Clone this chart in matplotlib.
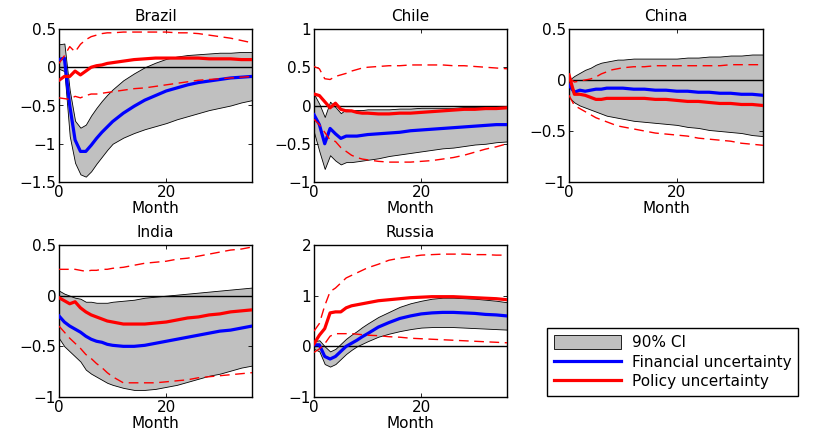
import numpy as np
import matplotlib
matplotlib.use('Agg')
import matplotlib.pyplot as plt
from matplotlib.patches import Patch
from matplotlib.lines import Line2D

plt.rcParams['font.family'] = ['DejaVu Sans']
plt.rcParams['font.size'] = 11

months = [0, 1, 2, 3, 4, 5, 6, 7, 8, 9, 10, 12, 14, 16, 18, 20, 22, 24, 26, 28, 30, 32, 34, 36]

# Brazil
br_up = [0.30, 0.31, -0.30, -0.70, -0.79, -0.75, -0.63, -0.53, -0.44, -0.36, -0.29, -0.17, -0.08, 0.00, 0.06, 0.11, 0.14, 0.16, 0.17, 0.18, 0.19, 0.19, 0.20, 0.20]
br_lo = [-0.02, -0.05, -0.90, -1.25, -1.40, -1.43, -1.36, -1.26, -1.17, -1.08, -1.00, -0.92, -0.86, -0.81, -0.77, -0.73, -0.68, -0.64, -0.60, -0.56, -0.53, -0.50, -0.46, -0.43]
br_fin = [0.10, 0.12, -0.50, -0.95, -1.10, -1.10, -1.02, -0.93, -0.85, -0.78, -0.71, -0.60, -0.51, -0.43, -0.37, -0.31, -0.27, -0.23, -0.20, -0.18, -0.16, -0.14, -0.13, -0.12]
br_pol = [-0.17, -0.12, -0.12, -0.05, -0.10, -0.05, 0.00, 0.02, 0.03, 0.05, 0.06, 0.08, 0.10, 0.11, 0.12, 0.12, 0.12, 0.12, 0.12, 0.11, 0.11, 0.11, 0.10, 0.10]
br_pol_hi = [0.05, 0.15, 0.27, 0.20, 0.30, 0.36, 0.40, 0.42, 0.44, 0.45, 0.45, 0.46, 0.46, 0.46, 0.46, 0.46, 0.45, 0.45, 0.44, 0.42, 0.40, 0.38, 0.35, 0.32]
br_pol_lo = [-0.40, -0.41, -0.42, -0.38, -0.40, -0.37, -0.35, -0.35, -0.34, -0.33, -0.32, -0.30, -0.28, -0.27, -0.25, -0.23, -0.21, -0.19, -0.17, -0.16, -0.15, -0.14, -0.13, -0.12]

# Chile
cl_up = [0.15, 0.02, -0.15, 0.05, -0.02, -0.10, -0.05, -0.06, -0.06, -0.06, -0.05, -0.05, -0.05, -0.04, -0.04, -0.03, -0.03, -0.03, -0.03, -0.02, -0.02, -0.02, -0.02, -0.02]
cl_lo = [-0.35, -0.60, -0.83, -0.65, -0.72, -0.77, -0.74, -0.74, -0.73, -0.72, -0.71, -0.69, -0.66, -0.64, -0.62, -0.60, -0.58, -0.56, -0.55, -0.53, -0.51, -0.50, -0.48, -0.47]
cl_fin = [-0.12, -0.25, -0.50, -0.30, -0.37, -0.43, -0.40, -0.40, -0.40, -0.39, -0.38, -0.37, -0.36, -0.35, -0.33, -0.32, -0.31, -0.30, -0.29, -0.28, -0.27, -0.26, -0.25, -0.25]
cl_pol = [0.15, 0.13, 0.05, -0.03, 0.03, -0.05, -0.07, -0.07, -0.09, -0.10, -0.10, -0.11, -0.11, -0.10, -0.10, -0.09, -0.08, -0.07, -0.06, -0.05, -0.05, -0.04, -0.04, -0.03]
cl_pol_hi = [0.51, 0.48, 0.35, 0.34, 0.38, 0.40, 0.42, 0.45, 0.47, 0.49, 0.50, 0.51, 0.52, 0.52, 0.53, 0.53, 0.53, 0.53, 0.52, 0.52, 0.51, 0.50, 0.49, 0.48]
cl_pol_lo = [-0.18, -0.25, -0.35, -0.45, -0.47, -0.55, -0.60, -0.65, -0.68, -0.70, -0.71, -0.73, -0.74, -0.74, -0.74, -0.73, -0.72, -0.70, -0.68, -0.65, -0.61, -0.57, -0.54, -0.50]

# China
cn_up = [0.00, 0.04, 0.07, 0.10, 0.12, 0.15, 0.17, 0.18, 0.19, 0.20, 0.20, 0.21, 0.21, 0.21, 0.21, 0.21, 0.22, 0.22, 0.23, 0.23, 0.24, 0.24, 0.25, 0.25]
cn_lo = [-0.17, -0.22, -0.25, -0.27, -0.29, -0.31, -0.33, -0.35, -0.36, -0.37, -0.38, -0.40, -0.41, -0.42, -0.43, -0.44, -0.46, -0.47, -0.49, -0.50, -0.51, -0.52, -0.54, -0.55]
cn_fin = [-0.05, -0.12, -0.10, -0.11, -0.10, -0.09, -0.09, -0.08, -0.08, -0.08, -0.08, -0.09, -0.09, -0.10, -0.10, -0.11, -0.11, -0.12, -0.12, -0.13, -0.13, -0.14, -0.14, -0.15]
cn_pol = [0.05, -0.14, -0.14, -0.15, -0.17, -0.19, -0.19, -0.18, -0.18, -0.18, -0.18, -0.18, -0.18, -0.19, -0.19, -0.20, -0.21, -0.21, -0.22, -0.23, -0.23, -0.24, -0.24, -0.25]
cn_pol_hi = [0.02, -0.02, -0.01, 0.00, 0.01, 0.03, 0.06, 0.08, 0.10, 0.11, 0.12, 0.13, 0.13, 0.14, 0.14, 0.14, 0.14, 0.14, 0.14, 0.14, 0.15, 0.15, 0.15, 0.15]
cn_pol_lo = [-0.15, -0.25, -0.28, -0.31, -0.34, -0.37, -0.39, -0.41, -0.43, -0.45, -0.46, -0.48, -0.50, -0.52, -0.53, -0.54, -0.55, -0.57, -0.58, -0.59, -0.60, -0.62, -0.63, -0.64]

# India
in_up = [0.05, 0.02, 0.00, -0.02, -0.03, -0.06, -0.06, -0.07, -0.07, -0.07, -0.06, -0.05, -0.04, -0.02, -0.01, 0.00, 0.01, 0.02, 0.03, 0.04, 0.05, 0.06, 0.07, 0.08]
in_lo = [-0.42, -0.50, -0.55, -0.60, -0.65, -0.73, -0.77, -0.80, -0.83, -0.86, -0.88, -0.91, -0.93, -0.93, -0.92, -0.90, -0.88, -0.85, -0.82, -0.79, -0.77, -0.74, -0.71, -0.69]
in_fin = [-0.20, -0.26, -0.30, -0.33, -0.36, -0.40, -0.43, -0.45, -0.46, -0.48, -0.49, -0.50, -0.50, -0.49, -0.47, -0.45, -0.43, -0.41, -0.39, -0.37, -0.35, -0.34, -0.32, -0.30]
in_pol = [-0.02, -0.05, -0.08, -0.06, -0.12, -0.16, -0.19, -0.21, -0.23, -0.25, -0.26, -0.28, -0.28, -0.28, -0.27, -0.26, -0.24, -0.22, -0.21, -0.19, -0.18, -0.16, -0.15, -0.14]
in_pol_hi = [0.26, 0.26, 0.26, 0.26, 0.25, 0.24, 0.25, 0.25, 0.26, 0.26, 0.27, 0.28, 0.30, 0.32, 0.33, 0.34, 0.36, 0.37, 0.39, 0.41, 0.43, 0.45, 0.46, 0.48]
in_pol_lo = [-0.30, -0.36, -0.42, -0.47, -0.52, -0.58, -0.62, -0.67, -0.71, -0.76, -0.80, -0.86, -0.86, -0.86, -0.86, -0.85, -0.84, -0.83, -0.81, -0.80, -0.79, -0.78, -0.77, -0.76]

# Russia
ru_up = [0.10, 0.12, 0.00, -0.10, -0.05, 0.05, 0.15, 0.23, 0.30, 0.38, 0.45, 0.58, 0.68, 0.78, 0.85, 0.90, 0.94, 0.96, 0.96, 0.95, 0.94, 0.92, 0.90, 0.87]
ru_lo = [-0.05, -0.10, -0.35, -0.40, -0.35, -0.25, -0.15, -0.07, 0.00, 0.05, 0.10, 0.19, 0.25, 0.30, 0.34, 0.37, 0.38, 0.38, 0.38, 0.37, 0.36, 0.35, 0.34, 0.33]
ru_fin = [0.03, 0.03, -0.20, -0.25, -0.20, -0.10, 0.00, 0.06, 0.12, 0.19, 0.25, 0.38, 0.47, 0.55, 0.60, 0.64, 0.66, 0.67, 0.67, 0.66, 0.65, 0.63, 0.62, 0.60]
ru_pol = [0.05, 0.22, 0.35, 0.66, 0.68, 0.68, 0.76, 0.80, 0.82, 0.84, 0.86, 0.90, 0.92, 0.94, 0.96, 0.97, 0.98, 0.98, 0.98, 0.97, 0.96, 0.95, 0.94, 0.92]
ru_pol_hi = [0.30, 0.45, 0.80, 1.08, 1.15, 1.25, 1.35, 1.40, 1.45, 1.50, 1.55, 1.62, 1.70, 1.74, 1.77, 1.80, 1.81, 1.82, 1.82, 1.82, 1.81, 1.81, 1.80, 1.80]
ru_pol_lo = [-0.12, -0.05, 0.05, 0.20, 0.25, 0.25, 0.25, 0.25, 0.24, 0.23, 0.22, 0.21, 0.19, 0.18, 0.16, 0.15, 0.14, 0.13, 0.12, 0.11, 0.10, 0.09, 0.08, 0.07]

panels = [
    ('Brazil', br_up, br_lo, br_fin, br_pol, br_pol_hi, br_pol_lo, (-1.5, 0.5), [-1.5, -1, -0.5, 0, 0.5]),
    ('Chile', cl_up, cl_lo, cl_fin, cl_pol, cl_pol_hi, cl_pol_lo, (-1, 1), [-1, -0.5, 0, 0.5, 1]),
    ('China', cn_up, cn_lo, cn_fin, cn_pol, cn_pol_hi, cn_pol_lo, (-1, 0.5), [-1, -0.5, 0, 0.5]),
    ('India', in_up, in_lo, in_fin, in_pol, in_pol_hi, in_pol_lo, (-1, 0.5), [-1, -0.5, 0, 0.5]),
    ('Russia', ru_up, ru_lo, ru_fin, ru_pol, ru_pol_hi, ru_pol_lo, (-1, 2), [-1, 0, 1, 2]),
]

W, H = 828, 436
# axes boxes in pixels: left, top, right, bottom
boxes = [(59, 29, 252, 182), (314, 29, 507, 182), (569, 29, 763, 182),
         (59, 245, 252, 397), (314, 245, 507, 397)]

fig = plt.figure(figsize=(W / 100, H / 100), dpi=100)
gray = '#c0c0c0'

for (name, up, lo, fin, pol, phi, plo, ylim, yt), (l, t, r, b) in zip(panels, boxes):
    ax = fig.add_axes([l / W, 1 - b / H, (r - l) / W, (b - t) / H])
    ax.fill_between(months, lo, up, facecolor=gray, edgecolor='black', linewidth=0.6, zorder=1)
    ax.axhline(0, color='black', linewidth=1.0, zorder=2)
    ax.plot(months, fin, color='blue', linewidth=2.3, zorder=3)
    ax.plot(months, pol, color='red', linewidth=2.3, zorder=3)
    ax.plot(months, phi, color='red', linewidth=1.0, dashes=(7, 4), zorder=4)
    ax.plot(months, plo, color='red', linewidth=1.0, dashes=(7, 4), zorder=4)
    ax.set_xlim(0, 36)
    ax.set_ylim(*ylim)
    ax.set_xticks([0, 20])
    ax.set_xticklabels(['0', '20'])
    ax.set_yticks(yt)
    ax.set_yticklabels([('%g' % v).replace('-', '\u2212') for v in yt])
    ax.tick_params(direction='in', top=True, right=True, length=3, width=0.6, pad=2, labelsize=11)
    for s in ax.spines.values():
        s.set_linewidth(1.0)
    ax.set_title(name, fontsize=11, pad=6)
    ax.set_xlabel('Month', fontsize=11, labelpad=1)

handles = [Patch(facecolor=gray, edgecolor='black', linewidth=0.6),
           Line2D([], [], color='blue', linewidth=2.3),
           Line2D([], [], color='red', linewidth=2.3)]
leg = fig.legend(handles, ['90% CI', 'Financial uncertainty', 'Policy uncertainty'],
                 loc='upper left', bbox_to_anchor=(547 / W, 1 - 328 / H), borderaxespad=0,
                 fontsize=11, handlelength=4.4, handleheight=1.0, handletextpad=0.7,
                 labelspacing=0.3, borderpad=0.45, fancybox=False, framealpha=1)
leg.get_frame().set_edgecolor('black')
leg.get_frame().set_linewidth(1.0)

plt.savefig('out.png', dpi=100)
